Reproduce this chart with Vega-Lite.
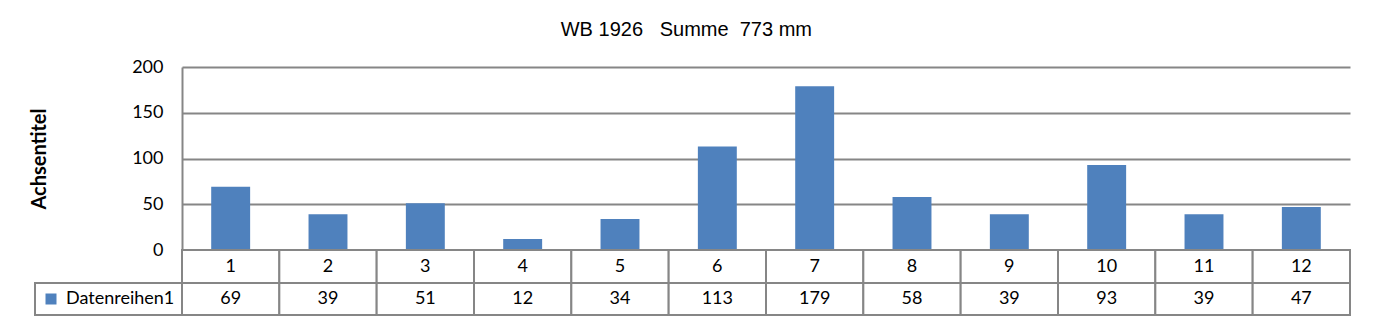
{
  "$schema": "https://vega.github.io/schema/vega-lite/v6.json",
  "padding": {"left": 29, "top": 20, "right": 10, "bottom": 10},
  "background": "white",
  "title": {"text": "WB 1926\u00a0\u00a0 Summe\u00a0 773 mm", "font": "Liberation Sans", "fontSize": 20, "fontWeight": "normal", "color": "#000000", "anchor": "middle", "frame": "bounds", "baseline": "top", "offset": 18, "dx": -4},
  "data": {"values": [
    {"m": 1, "v": 69, "s": "Datenreihen1"},
    {"m": 2, "v": 39, "s": "Datenreihen1"},
    {"m": 3, "v": 51, "s": "Datenreihen1"},
    {"m": 4, "v": 12, "s": "Datenreihen1"},
    {"m": 5, "v": 34, "s": "Datenreihen1"},
    {"m": 6, "v": 113, "s": "Datenreihen1"},
    {"m": 7, "v": 179, "s": "Datenreihen1"},
    {"m": 8, "v": 58, "s": "Datenreihen1"},
    {"m": 9, "v": 39, "s": "Datenreihen1"},
    {"m": 10, "v": 93, "s": "Datenreihen1"},
    {"m": 11, "v": 39, "s": "Datenreihen1"},
    {"m": 12, "v": 47, "s": "Datenreihen1"}
  ]},
  "spacing": 0,
  "bounds": "flush",
  "vconcat": [
    {
      "width": 1168,
      "height": 183,
      "mark": {"type": "bar", "color": "#4F81BD", "width": {"band": 0.4}},
      "encoding": {
        "x": {"field": "m", "type": "ordinal", "scale": {"paddingInner": 0, "paddingOuter": 0}, "axis": null},
        "y": {"field": "v", "type": "quantitative", "scale": {"domain": [0, 200]}, "axis": {"title": "Achsentitel", "values": [0, 50, 100, 150, 200], "titlePadding": 82}}
      }
    },
    {
      "width": 1168,
      "height": 33,
      "layer": [
        {
          "mark": {"type": "rect", "fill": "white", "stroke": "#868686", "strokeWidth": 2},
          "encoding": {"x": {"field": "m", "type": "ordinal", "scale": {"paddingInner": 0, "paddingOuter": 0}, "axis": null}}
        },
        {
          "mark": {"type": "text", "font": "Lato", "fontSize": 18, "color": "#000000"},
          "encoding": {"x": {"field": "m", "type": "ordinal", "axis": null}, "text": {"field": "m"}}
        }
      ]
    },
    {
      "width": 1168,
      "height": 32,
      "layer": [
        {
          "mark": {"type": "rect", "fill": "white", "stroke": "#868686", "strokeWidth": 2},
          "encoding": {"x": {"field": "m", "type": "ordinal", "scale": {"paddingInner": 0, "paddingOuter": 0}, "axis": null}}
        },
        {
          "mark": {"type": "text", "font": "Lato", "fontSize": 18, "color": "#000000"},
          "encoding": {"x": {"field": "m", "type": "ordinal", "axis": null}, "text": {"field": "v"}}
        },
        {
          "mark": {"type": "square", "opacity": 0},
          "encoding": {
            "color": {"field": "s", "type": "nominal", "scale": {"range": ["#4F81BD"]},
              "legend": {"title": null, "orient": "left", "offset": 0, "padding": 7, "symbolType": "square", "symbolSize": 121, "symbolOpacity": 1, "symbolStrokeWidth": 0, "labelFont": "Lato", "labelFontSize": 18, "labelColor": "#000000", "labelOffset": 6, "labelLimit": 400, "strokeColor": "#868686"}}
          }
        }
      ]
    }
  ],
  "resolve": {"scale": {"color": "independent"}, "legend": {"color": "independent"}},
  "config": {
    "view": {"stroke": null},
    "legend": {"strokeWidth": 2},
    "axisY": {"domainColor": "#868686", "domainWidth": 2, "gridColor": "#868686", "gridWidth": 2, "ticks": false, "labelFont": "Lato", "labelFontSize": 18, "labelColor": "#000000", "labelPadding": 19, "titleFont": "Lato", "titleFontSize": 20, "titleFontWeight": "bold", "titleColor": "#000000"}
  }
}
